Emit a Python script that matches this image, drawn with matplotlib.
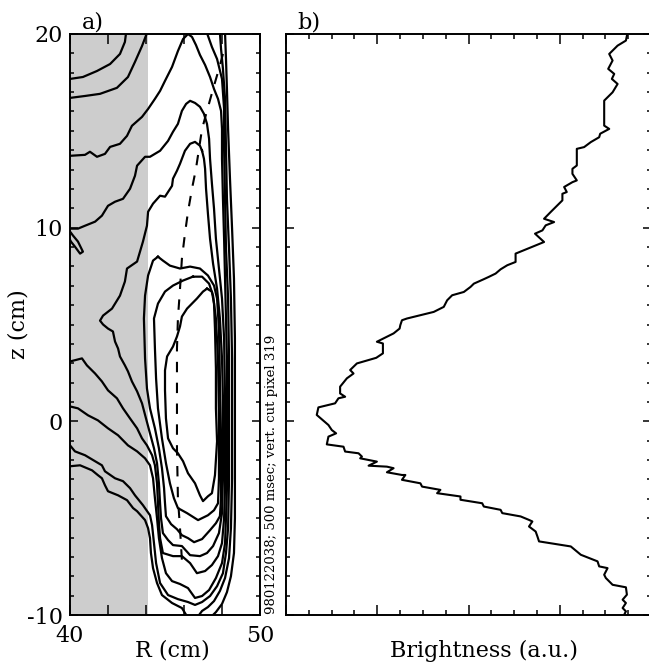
import matplotlib.pyplot as plt
from matplotlib.ticker import MultipleLocator, FixedLocator

plt.rcParams['font.family'] = 'DejaVu Serif'

# ---------------- panel b: vertical brightness cut ----------------
z_cut = [20.0, 19.66, 19.40, 18.97, 18.63, 18.20, 17.94, 17.68, 17.42, 16.99,
         16.56, 15.27, 15.10, 14.85, 14.67, 14.42, 14.16, 14.07, 13.21, 13.04,
         12.78, 12.44, 12.35, 12.10, 11.84, 11.75, 11.41, 10.81, 10.46, 10.29,
         10.12, 9.86, 9.69, 9.26, 8.66, 8.23, 8.06, 7.85, 7.63, 7.46,
         7.34, 7.11, 6.94, 6.68, 6.51, 6.25, 5.91, 5.65, 5.31, 5.22,
         4.97, 4.79, 4.54, 4.11, 4.02, 3.51, 3.28, 2.99, 2.65, 2.47,
         2.22, 1.79, 1.44, 1.27, 1.19, 0.93, 0.72, 0.33, -0.19, -0.45,
         -0.62, -0.79, -1.19, -1.31, -1.56, -1.65, -1.82, -1.91, -2.08, -2.29,
         -2.34, -2.42, -2.63, -2.77, -2.77, -3.02, -3.20, -3.37, -3.54, -3.71,
         -3.88, -4.05, -4.23, -4.40, -4.57, -4.74, -4.91, -5.09, -5.17, -5.43,
         -5.69, -5.94, -6.20, -6.46, -6.89, -7.23, -7.49, -7.58, -7.92, -8.09,
         -8.44, -8.57, -8.95, -9.21, -9.38, -9.64, -9.81, -9.98]
brightness = [3.74, 3.725, 3.634, 3.542, 3.579, 3.531, 3.597, 3.571, 3.634, 3.579,
              3.487, 3.487, 3.542, 3.443, 3.432, 3.341, 3.267, 3.187, 3.187, 3.139,
              3.139, 3.187, 3.139, 3.048, 3.077, 3.029, 3.029, 2.901, 2.828, 2.938,
              2.846, 2.810, 2.729, 2.828, 2.516, 2.516, 2.425, 2.352, 2.297, 2.223,
              2.168, 2.059, 2.022, 1.949, 1.821, 1.766, 1.729, 1.619, 1.326, 1.271,
              1.253, 1.245, 1.179, 0.996, 1.062, 1.062, 0.989, 0.777, 0.703, 0.740,
              0.667, 0.593, 0.593, 0.648, 0.575, 0.538, 0.355, 0.337, 0.465, 0.502,
              0.549, 0.465, 0.447, 0.630, 0.648, 0.795, 0.832, 0.813, 0.996, 0.905,
              1.106, 1.179, 1.106, 1.271, 1.308, 1.271, 1.473, 1.491, 1.692, 1.656,
              1.912, 1.912, 2.150, 2.168, 2.352, 2.370, 2.571, 2.663, 2.700, 2.663,
              2.736, 2.755, 2.773, 3.121, 3.231, 3.414, 3.432, 3.524, 3.487, 3.505,
              3.579, 3.725, 3.736, 3.689, 3.725, 3.689, 3.725, 3.707]

# ---------------- panel a: contour lines, R (cm) / z (cm) ----------------
gray_edge = 44.12

c1_R = [40.00, 40.68, 41.42, 42.11, 42.63, 42.89, 42.95]
c1_z = [17.68, 17.78, 18.09, 18.45, 18.97, 19.59, 20.05]

c2_R = [40.00, 40.79, 41.58, 42.47, 43.05, 43.42, 43.79, 44.05]
c2_z = [16.70, 16.80, 16.91, 17.22, 17.78, 18.56, 19.38, 20.05]

c3_R = [40.00, 40.79, 41.05, 41.42, 41.84, 42.11, 42.63, 43.00, 43.26, 43.79,
        44.11, 44.47, 44.74, 45.00, 45.37, 45.68, 45.95, 46.21, 46.42, 46.63,
        46.84, 47.11, 47.37, 47.58, 47.79, 47.95, 48.00, 48.00, 48.05, 48.11,
        48.16, 48.21, 48.26, 48.26, 48.26, 48.26, 48.21, 48.16, 48.00, 47.68,
        47.32, 46.95, 46.58, 46.21, 45.79, 45.37, 45.05, 44.84, 44.68, 44.58,
        44.47, 44.37, 44.21, 43.95, 43.53, 43.05, 42.53, 42.00, 41.47, 40.95,
        40.42, 40.00]
c3_z = [13.71, 13.76, 13.92, 13.66, 13.81, 14.17, 14.33, 14.74, 15.26, 15.72,
        16.13, 16.65, 17.06, 17.58, 18.30, 19.12, 19.74, 20.00, 19.85, 19.43,
        18.92, 18.40, 17.78, 17.16, 16.65, 16.03, 15.10, 13.56, 11.49, 9.43,
        7.37, 5.31, 3.25, 1.19, -1.39, -3.45, -5.00, -6.29, -7.32, -8.09,
        -8.71, -9.02, -9.12, -8.61, -8.40, -8.25, -7.84, -7.06, -6.03, -5.00,
        -3.97, -2.94, -2.27, -1.91, -1.55, -1.24, -0.72, -0.36, 0.05, 0.31,
        0.67, 0.77]

c4_R = [40.00, 40.42, 40.79, 41.32, 41.68, 42.00, 42.37, 42.79, 43.16, 43.42,
        43.53, 43.95, 44.21, 44.74, 45.16, 45.42, 45.68, 45.89, 46.11, 46.32,
        46.58, 46.84, 47.05, 47.21, 47.32, 47.37, 47.47, 47.58, 47.68, 47.84,
        48.00, 48.11, 48.16, 48.16, 48.16, 48.11, 48.00, 47.79, 47.47, 47.11,
        46.68, 46.32, 45.89, 45.42, 44.89, 44.74, 44.68, 44.63, 44.58, 44.47,
        44.32, 44.05, 43.79, 43.53, 43.16, 42.79, 42.47, 42.00, 41.68, 41.32,
        40.89, 40.63, 40.00]
c4_z = [9.95, 9.95, 10.10, 10.31, 10.62, 11.13, 11.34, 11.49, 12.01, 12.68,
        13.20, 13.66, 13.66, 13.97, 14.48, 14.95, 15.36, 16.03, 16.39, 16.55,
        16.44, 16.24, 15.88, 15.36, 14.59, 13.56, 12.27, 10.98, 9.43, 7.89,
        6.34, 4.28, 1.19, -1.39, -3.45, -5.00, -6.29, -6.96, -7.42, -7.73,
        -7.84, -7.32, -6.96, -6.96, -6.80, -6.03, -5.26, -4.23, -3.20, -2.27,
        -1.75, -1.24, -0.88, -0.36, 0.15, 0.67, 1.19, 1.60, 2.06, 2.47,
        2.89, 3.25, 3.09]

lobe_R = [40.00, 40.16, 40.42, 40.68, 40.53, 40.26, 40.05, 40.00]
lobe_z = [9.80, 9.59, 9.28, 8.76, 8.66, 9.02, 9.28, 9.38]

c5_R = [46.95, 46.84, 46.58, 46.32, 46.05, 45.79, 45.63, 45.42, 45.37, 45.00,
        44.74, 44.37, 44.11, 44.05, 43.84, 43.53, 43.00, 42.89, 42.63, 42.21,
        41.74, 41.58, 41.74, 42.00, 42.26, 42.37, 42.53, 42.63, 42.89, 43.05,
        43.26, 43.53, 43.79, 44.00, 44.21, 44.42, 44.58, 44.68, 44.74, 44.79,
        44.89, 45.16, 45.42, 45.89, 46.32, 46.84, 47.21, 47.53, 47.84, 48.00,
        48.05, 48.05, 48.05, 48.00, 47.89, 47.74, 47.53, 47.37, 47.26, 47.16,
        47.11, 47.05, 46.95]
c5_z = [13.97, 14.23, 14.43, 14.33, 13.97, 13.30, 12.94, 12.53, 12.16, 11.60,
        11.65, 11.24, 10.82, 10.10, 9.28, 8.25, 7.89, 7.22, 6.49, 5.82,
        5.46, 5.20, 5.00, 4.79, 4.64, 4.12, 3.76, 3.35, 2.89, 2.58,
        2.06, 1.55, 0.93, 0.15, -0.62, -1.39, -2.16, -3.20, -4.23, -5.00,
        -5.77, -6.13, -6.39, -6.44, -6.91, -6.96, -6.80, -6.44, -5.77, -4.74,
        -2.94, -0.88, 1.19, 3.25, 5.31, 6.85, 8.14, 9.43, 10.72, 12.01,
        13.04, 13.56, 13.97]

c6_R = [44.63, 44.89, 45.26, 45.79, 46.32, 46.84, 47.26, 47.58, 47.74, 47.84,
        47.89, 47.95, 47.95, 47.89, 47.68, 47.37, 46.95, 46.53, 46.21, 45.89,
        45.63, 45.32, 45.05, 45.00, 44.95, 44.84, 44.68, 44.47, 44.21, 44.05,
        43.95, 43.89, 43.95, 44.11, 44.37, 44.63]
c6_z = [8.50, 8.30, 8.04, 7.89, 7.99, 7.89, 7.53, 7.01, 6.34, 4.79,
        2.22, -0.88, -3.97, -4.90, -5.26, -5.62, -6.08, -6.24, -6.03, -5.88,
        -5.57, -5.31, -4.90, -4.23, -3.45, -2.42, -1.39, -0.36, 0.67, 1.70,
        3.25, 5.31, 6.49, 7.53, 8.30, 8.50]

c7_R = [46.47, 46.95, 47.32, 47.53, 47.68, 47.79, 47.84, 47.84, 47.79, 47.58,
        47.26, 46.74, 46.16, 45.68, 45.47, 45.26, 45.05, 44.84, 44.63, 44.53,
        44.47, 44.42, 44.63, 45.00, 45.42, 45.95, 46.47]
c7_z = [7.47, 7.47, 7.11, 6.49, 5.31, 3.25, 0.15, -2.94, -4.23, -4.59,
        -4.85, -5.10, -4.74, -4.48, -3.97, -3.20, -2.16, -0.88, 0.67, 2.22,
        3.76, 5.31, 6.08, 6.70, 7.01, 7.27, 7.47]

c8_R = [47.21, 47.47, 47.58, 47.63, 47.68, 47.68, 47.74, 47.63, 47.47, 47.26,
        47.00, 46.84, 46.58, 46.21, 45.95, 45.68, 45.42, 45.16, 45.05, 45.00,
        45.00, 45.11, 45.42, 45.63, 45.79, 45.89, 46.16, 46.68, 47.00, 47.21]
c8_z = [6.85, 6.70, 6.08, 4.79, 2.73, 0.67, -1.03, -2.78, -3.71, -3.87,
        -4.12, -3.82, -3.20, -2.68, -2.06, -1.65, -1.39, -0.88, 0.15, 1.60,
        2.63, 3.35, 3.86, 4.38, 4.90, 5.41, 5.82, 6.34, 6.70, 6.85]

c9_R = [40.00, 40.26, 40.79, 41.32, 41.68, 41.84, 42.37, 42.79, 43.16, 43.42,
        43.84, 44.21, 44.32, 44.42, 44.53, 44.74, 45.16, 45.68, 46.21, 46.58,
        46.95, 47.37, 47.74, 48.05, 48.21, 48.32, 48.37, 48.37, 48.37, 48.32,
        48.21, 48.16, 48.11, 48.11, 48.00, 47.74, 47.47, 47.21]
c9_z = [-1.24, -1.55, -1.75, -2.06, -2.27, -2.58, -2.94, -3.09, -3.45, -3.82,
        -4.33, -4.85, -5.36, -6.29, -7.32, -8.35, -8.97, -9.18, -9.33, -9.48,
        -9.33, -9.02, -8.51, -7.84, -6.80, -5.52, -2.94, 0.15, 3.25, 6.34,
        8.92, 11.49, 14.07, 16.13, 17.68, 18.71, 19.33, 20.05]

c10_R = [40.00, 40.53, 41.16, 41.47, 41.68, 41.84, 42.00, 42.53, 43.00, 43.32,
         43.53, 43.95, 44.11, 44.21, 44.26, 44.37, 44.58, 44.84, 45.37, 45.89,
         46.21]
c10_z = [-2.32, -2.27, -2.53, -2.78, -2.94, -3.30, -3.61, -3.82, -4.07, -4.48,
         -4.64, -5.10, -5.52, -6.03, -6.80, -7.58, -8.35, -8.97, -9.38, -9.64,
         -10.15]

c11_R = [46.68, 46.95, 47.26, 47.58, 47.89, 48.16, 48.37, 48.47, 48.53, 48.53,
         48.53, 48.47, 48.37, 48.26, 48.21, 48.16, 48.05, 47.95, 47.89]
c11_z = [-10.15, -9.79, -9.59, -9.28, -8.76, -8.09, -7.06, -5.52, -2.94, 0.15,
         3.25, 6.34, 8.92, 11.49, 14.07, 16.65, 18.20, 19.23, 20.05]

c12_R = [47.37, 47.68, 48.00, 48.26, 48.47, 48.63, 48.68, 48.68, 48.68, 48.68,
         48.63, 48.53, 48.42, 48.32, 48.26, 48.21, 48.16]
c12_z = [-10.15, -9.85, -9.43, -8.82, -8.00, -6.80, -5.00, -1.91, 1.19, 4.28,
         7.37, 9.95, 12.53, 15.10, 17.16, 18.71, 20.05]

# dashed line (cut position)
dash_R = [48.05, 47.84, 47.53, 47.21, 46.95, 46.79, 46.63, 46.42, 46.21, 46.05,
          45.89, 45.79, 45.68, 45.63, 45.63, 45.63, 45.68, 45.79, 45.89]
dash_z = [18.97, 18.20, 17.16, 16.03, 15.10, 14.07, 13.04, 12.01, 10.82, 9.69,
          8.40, 6.85, 5.31, 3.76, 1.19, -1.39, -3.97, -5.52, -7.17]

contours = [(c1_R, c1_z), (c2_R, c2_z), (c3_R, c3_z), (c4_R, c4_z),
            (lobe_R, lobe_z), (c5_R, c5_z), (c6_R, c6_z), (c7_R, c7_z),
            (c8_R, c8_z), (c9_R, c9_z), (c10_R, c10_z), (c11_R, c11_z),
            (c12_R, c12_z)]

W, H = 649, 663
fig = plt.figure(figsize=(W / 100, H / 100), dpi=100)

# pixel layout of the two frames (top 34 px, bottom 615 px)
ax_a = fig.add_axes([70 / W, 1 - 615 / H, 190 / W, 581 / H])
ax_b = fig.add_axes([286 / W, 1 - 615 / H, 365 / W, 581 / H])

for ax in (ax_a, ax_b):
    for s in ax.spines.values():
        s.set_linewidth(1.4)
    ax.tick_params(which='both', direction='in', top=True, right=True,
                   width=1.1, labelsize=16)
    ax.set_ylim(-10, 20)
    ax.yaxis.set_major_locator(MultipleLocator(10))
    ax.yaxis.set_minor_locator(MultipleLocator(1))
    ax.tick_params(axis='y', which='major', length=5.5)
    ax.tick_params(axis='y', which='minor', length=3.2)

# ---- panel a
ax_a.axvspan(40, gray_edge, color='#cdcdcd', lw=0, zorder=0)
for R, z in contours:
    ax_a.plot(R, z, color='black', lw=1.6, zorder=2)
ax_a.plot(dash_R, dash_z, color='black', lw=1.5, dashes=(5, 5), zorder=2)
ax_a.set_xlim(40, 50)
ax_a.xaxis.set_major_locator(FixedLocator([40, 50]))
ax_a.xaxis.set_minor_locator(FixedLocator([42, 44, 46, 48]))
ax_a.tick_params(axis='x', which='both', length=7, pad=7)
ax_a.tick_params(axis='y', which='major', pad=5)
ax_a.yaxis.set_major_formatter(plt.FuncFormatter(lambda v, p: '%d' % v))
ax_a.text(0.06, 1.0, 'a)', transform=ax_a.transAxes, fontsize=16,
          ha='left', va='bottom')

# ---- panel b
ax_b.plot(brightness, z_cut, color='black', lw=1.5)
ax_b.set_xlim(0, 4.0)
ax_b.xaxis.set_major_locator(MultipleLocator(1))
ax_b.xaxis.set_minor_locator(MultipleLocator(0.25))
ax_b.tick_params(axis='x', which='major', length=7)
ax_b.tick_params(axis='x', which='minor', length=3.5)
ax_b.tick_params(labelbottom=False, labelleft=False)
ax_b.text(0.03, 1.0, 'b)', transform=ax_b.transAxes, fontsize=16,
          ha='left', va='bottom')

fig.text(172 / W, 1 - 651 / H, 'R (cm)', fontsize=16, ha='center', va='center')
fig.text(484 / W, 1 - 651 / H, 'Brightness (a.u.)', fontsize=16,
         ha='center', va='center')
fig.text(18 / W, 1 - 324 / H, 'z (cm)', fontsize=16, rotation=90,
         ha='center', va='center')
fig.text(272 / W, 1 - 474 / H, '980122038; 500 msec; vert. cut pixel 319',
         fontsize=9.5, rotation=90, ha='center', va='center')

fig.savefig('out.png', dpi=100)
